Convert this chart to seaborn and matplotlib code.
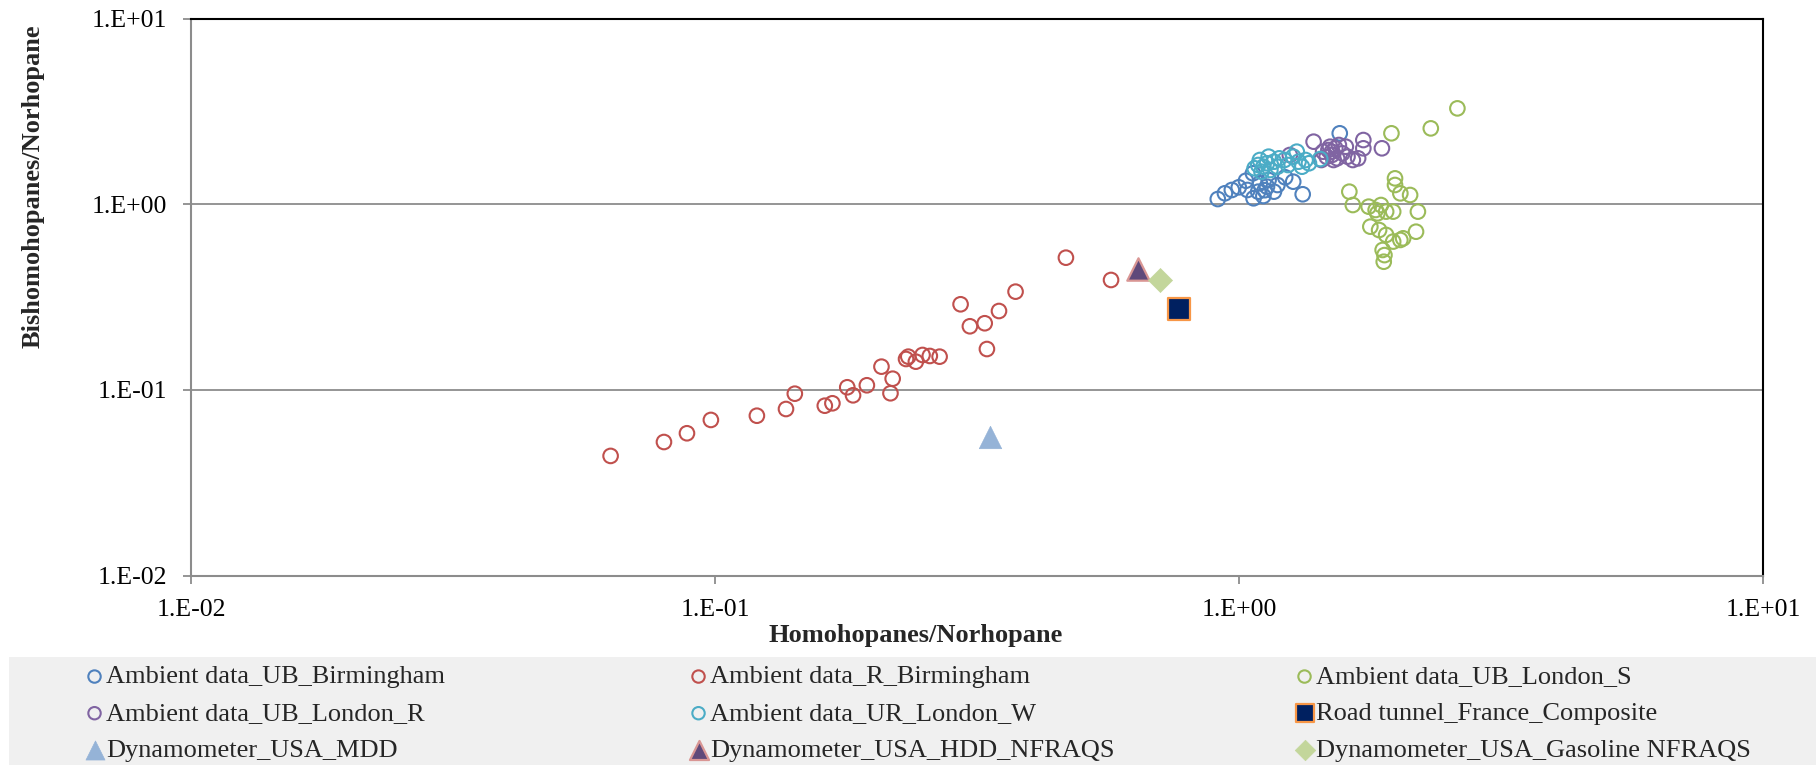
import numpy as np
import pandas as pd
import matplotlib
matplotlib.use("Agg")
import matplotlib.pyplot as plt
import seaborn as sns
from matplotlib.patches import Rectangle
from matplotlib.ticker import FixedLocator, FixedFormatter, NullLocator

# --- dane (Homohopanes/Norhopane, Bishomohopanes/Norhopane) ---
ub_birm_x = [0.911, 0.969, 0.999, 1.031, 1.066, 1.088, 1.113, 1.096, 1.131, 1.139,
             1.184, 1.225, 1.269, 1.323, 1.557, 1.063, 1.038, 1.120, 1.166, 0.940]
ub_birm_y = [1.066, 1.193, 1.233, 1.338, 1.076, 1.168, 1.107, 1.296, 1.243, 1.350,
             1.269, 1.396, 1.322, 1.131, 2.409, 1.467, 1.193, 1.190, 1.168, 1.145]

r_birm_x = [0.0632, 0.0799, 0.0884, 0.0982, 0.1202, 0.1366, 0.1420, 0.1620, 0.1675, 0.1788,
            0.1834, 0.1949, 0.2078, 0.2183, 0.2162, 0.2315, 0.2338, 0.2417, 0.2489, 0.2570,
            0.2683, 0.2942, 0.3065, 0.3271, 0.3303, 0.3483, 0.3746, 0.4674, 0.5699]
r_birm_y = [0.0441, 0.0524, 0.0584, 0.0689, 0.0726, 0.0789, 0.0954, 0.0822, 0.0847, 0.1033,
            0.0935, 0.1059, 0.1334, 0.1149, 0.0959, 0.1467, 0.1510, 0.1419, 0.1542, 0.1523,
            0.1510, 0.2891, 0.2201, 0.2285, 0.1660, 0.2660, 0.3381, 0.5152, 0.3908]

ub_lon_s_x = [2.611, 2.323, 1.954, 1.624, 1.649, 1.768, 1.837, 1.866, 1.909, 1.969,
              1.985, 1.985, 2.032, 2.121, 2.195, 1.781, 1.851, 1.909, 1.969, 2.032,
              2.057, 2.177, 1.880, 1.895, 1.889, 1.823]
ub_lon_s_y = [3.282, 2.561, 2.409, 1.168, 0.990, 0.970, 0.893, 0.990, 0.912, 0.912,
              1.378, 1.269, 1.144, 1.121, 0.912, 0.757, 0.726, 0.683, 0.629, 0.642,
              0.655, 0.711, 0.567, 0.532, 0.490, 0.931]

ub_lon_r_x = [1.388, 1.447, 1.481, 1.504, 1.527, 1.551, 1.539, 1.575, 1.599, 1.611,
              1.649, 1.688, 1.727, 1.727, 1.874, 1.436, 1.515, 1.492, 1.250, 1.470, 1.504]
ub_lon_r_y = [2.171, 1.918, 1.958, 1.841, 2.000, 2.084, 1.766, 1.880, 2.040, 1.803,
              1.730, 1.766, 2.216, 2.000, 2.000, 1.730, 1.730, 2.040, 1.841, 1.800, 1.918]

ur_lon_w_x = [1.096, 1.113, 1.131, 1.148, 1.104, 1.088, 1.166, 1.193, 1.184, 1.221,
              1.240, 1.269, 1.289, 1.299, 1.319, 1.340, 1.360, 1.429, 1.139, 1.071]
ur_lon_w_y = [1.730, 1.592, 1.661, 1.528, 1.496, 1.626, 1.694, 1.766, 1.592, 1.730,
              1.626, 1.803, 1.918, 1.694, 1.592, 1.730, 1.661, 1.751, 1.803, 1.561]

tunnel_x, tunnel_y = [0.7695], [0.2728]
mdd_x, mdd_y = [0.3348], [0.0560]
hdd_x, hdd_y = [0.6424], [0.446]
gas_x, gas_y = [0.7062], [0.391]

tick_vals = [0.01, 0.1, 1, 10]
tick_labels = ["1.E-02", "1.E-01", "1.E+00", "1.E+01"]

sns.set_style("white")
plt.rcParams['font.family'] = ['Liberation Serif', 'DejaVu Serif']

fig = plt.figure(figsize=(18.16, 7.65), dpi=100)
ax = fig.add_axes([0.1052, 0.2476, 0.8656, 0.7282])

# serie z pustymi kółkami (kolejność jak w Excelu)
circles = [
    ("Ambient data_UB_Birmingham", ub_birm_x, ub_birm_y, "#4F81BD"),
    ("Ambient data_R_Birmingham", r_birm_x, r_birm_y, "#C0504D"),
    ("Ambient data_UB_London_S", ub_lon_s_x, ub_lon_s_y, "#9BBB59"),
    ("Ambient data_UB_London_R", ub_lon_r_x, ub_lon_r_y, "#8064A2"),
    ("Ambient data_UR_London_W", ur_lon_w_x, ur_lon_w_y, "#4BACC6"),
]
for name, xs, ys, col in circles:
    df = pd.DataFrame({"x": xs, "y": ys})
    sns.scatterplot(data=df, x="x", y="y", ax=ax, marker="o", s=110,
                    facecolors="none", edgecolor=col, linewidth=1.5,
                    label=name, legend=False, zorder=3)

sns.scatterplot(x=tunnel_x, y=tunnel_y, ax=ax, marker="s", s=240, color="#002060",
                edgecolor="#F79646", linewidth=1.6, label="Road tunnel_France_Composite",
                legend=False, zorder=4)
sns.scatterplot(x=mdd_x, y=mdd_y, ax=ax, marker="^", s=260, color="#95B3D7",
                edgecolor="#95B3D7", linewidth=0.5, label="Dynamometer_USA_MDD",
                legend=False, zorder=4)
sns.scatterplot(x=hdd_x, y=hdd_y, ax=ax, marker="^", s=260, color="#5F497A",
                edgecolor="#D99694", linewidth=1.6, label="Dynamometer_USA_HDD_NFRAQS",
                legend=False, zorder=4)
sns.scatterplot(x=gas_x, y=gas_y, ax=ax, marker="D", s=150, color="#C3D69B",
                edgecolor="#C3D69B", linewidth=0.5, label="Dynamometer_USA_Gasoline NFRAQS",
                legend=False, zorder=4)

ax.set_xscale("log")
ax.set_yscale("log")
ax.set_xlim(0.01, 10)
ax.set_ylim(0.01, 10)
for axis in (ax.xaxis, ax.yaxis):
    axis.set_major_locator(FixedLocator(tick_vals))
    axis.set_major_formatter(FixedFormatter(tick_labels))
    axis.set_minor_locator(NullLocator())

ax.yaxis.grid(True, color="#8C8C8C", linewidth=1.3)
ax.xaxis.grid(False)
ax.set_axisbelow(True)

for side in ("left", "bottom"):
    ax.spines[side].set_color("#8C8C8C")
    ax.spines[side].set_linewidth(1.5)
for side in ("top", "right"):
    ax.spines[side].set_color("black")
    ax.spines[side].set_linewidth(1.5)

ax.tick_params(axis="both", which="major", direction="out", length=6, width=1.3,
               color="#8C8C8C", labelsize=18.5, labelcolor="black", pad=11,
               bottom=True, left=True)

ax.set_xlabel("Homohopanes/Norhopane", fontsize=19, fontweight="bold")
ax.set_ylabel("Bishomohopanes/Norhopane", fontsize=19, fontweight="bold")
ax.xaxis.set_label_coords(0.461, -0.087)
ax.yaxis.set_label_coords(-0.093, 0.698)

# szare tło legendy
fig.patches.append(Rectangle((9 / 1816, 0), 1, 108 / 765, transform=fig.transFigure,
                             facecolor="#F0F0F0", edgecolor="none", zorder=0))

handles, labels = ax.get_legend_handles_labels()
lookup = dict(zip(labels, handles))
columns = [
    ["Ambient data_UB_Birmingham", "Ambient data_UB_London_R", "Dynamometer_USA_MDD"],
    ["Ambient data_R_Birmingham", "Ambient data_UR_London_W", "Dynamometer_USA_HDD_NFRAQS"],
    ["Ambient data_UB_London_S", "Road tunnel_France_Composite", "Dynamometer_USA_Gasoline NFRAQS"],
]
col_x = [87 / 1816, 691 / 1816, 1297 / 1816]
for cx, names in zip(col_x, columns):
    fig.legend([lookup[n] for n in names], names, loc="upper left",
               bbox_to_anchor=(cx, 100 / 765), frameon=False, fontsize=19,
               markerscale=0.85, handlelength=0.57, handletextpad=0.15,
               labelspacing=0.5, borderpad=0, borderaxespad=0)

fig.savefig("out.png", dpi=100)
